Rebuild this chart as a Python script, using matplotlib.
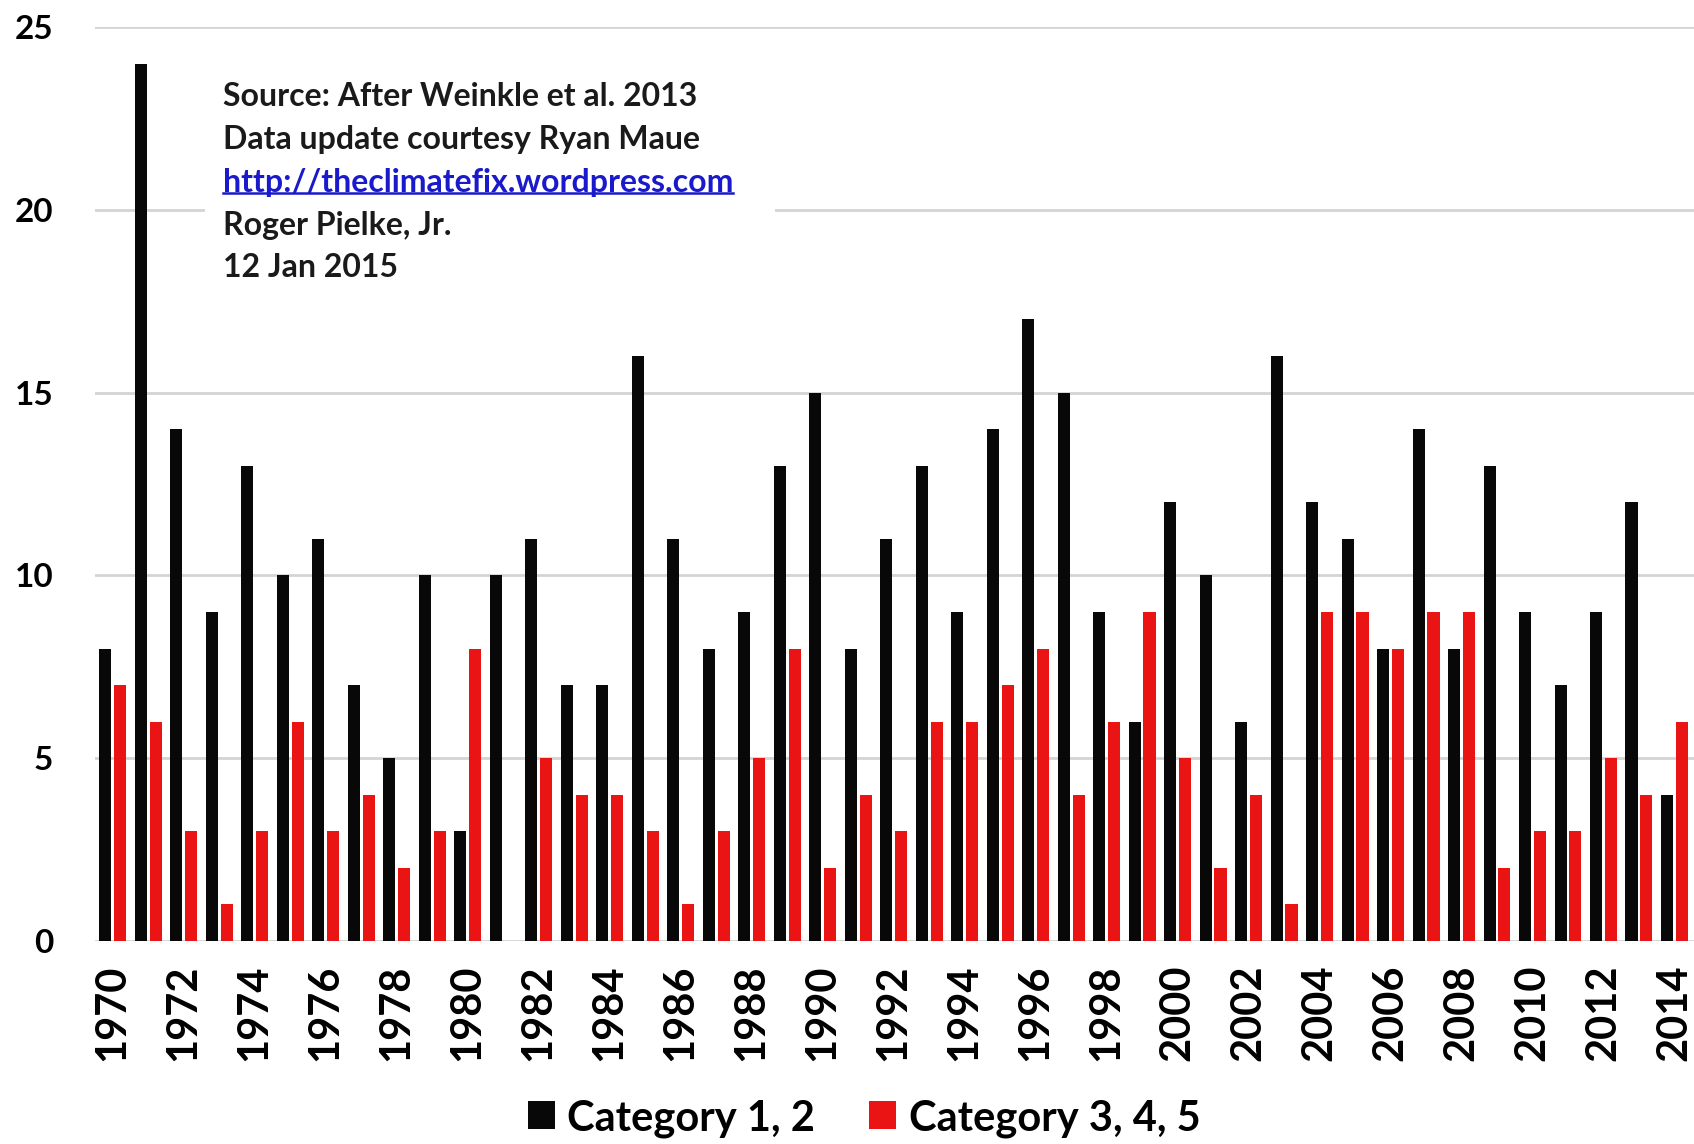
import matplotlib
matplotlib.use("Agg")
import matplotlib.pyplot as plt
import numpy as np
from matplotlib.patches import Rectangle
from matplotlib.lines import Line2D

plt.rcParams['font.family'] = ['Lato', 'DejaVu Sans']
plt.rcParams['font.weight'] = 'bold'

years = list(range(1970, 2015))
cat12 = [8, 24, 14, 9, 13, 10, 11, 7, 5, 10, 3, 10, 11, 7, 7, 16, 11, 8, 9, 13,
         15, 8, 11, 13, 9, 14, 17, 15, 9, 6, 12, 10, 6, 16, 12, 11, 8, 14, 8, 13,
         9, 7, 9, 12, 4]
cat345 = [7, 6, 3, 1, 3, 6, 3, 4, 2, 3, 8, 0, 5, 4, 4, 3, 1, 3, 5, 8,
          2, 4, 3, 6, 6, 7, 8, 4, 6, 9, 5, 2, 4, 1, 9, 9, 8, 9, 9, 2,
          3, 3, 5, 4, 6]
series_labels = ["Category 1, 2", "Category 3, 4, 5"]
yticks = [0, 5, 10, 15, 20, 25]
note_lines = ["Source: After Weinkle et al. 2013",
              "Data update courtesy Ryan Maue",
              "http://theclimatefix.wordpress.com",
              "Roger Pielke, Jr.",
              "12 Jan 2015"]

W, H = 1694, 1144
fig = plt.figure(figsize=(W / 100, H / 100), dpi=100)
ax = fig.add_axes([95 / W, 1 - 941 / H, 1 - 95 / W, (941 - 27) / H])

x = np.arange(len(years))
bw = 0.34
b1 = ax.bar(x - 0.21, cat12, width=bw, color='#080808', zorder=2, label=series_labels[0])
b2 = ax.bar(x + 0.21, cat345, width=bw, color='#ea1414', zorder=2, label=series_labels[1])

ax.set_xlim(-0.5, len(years) - 0.45)
ax.set_ylim(0, 25)
ax.set_yticks(yticks)
ax.set_yticklabels([str(v) for v in yticks], fontsize=24, fontweight='bold')
ax.set_xticks(x[::2])
ax.set_xticklabels([str(y) for y in years[::2]], rotation=90, fontsize=30, fontweight='bold')
ax.tick_params(axis='y', length=0, pad=30)
ax.tick_params(axis='x', length=0, pad=17)
ax.set_axisbelow(True)
ax.yaxis.grid(True, color='#d4d4d4', linewidth=2)
for s in ax.spines.values():
    s.set_visible(False)

# white note box hiding grid lines
box = Rectangle((205 / W, 1 - 285 / H), (775 - 205) / W, (285 - 60) / H,
                transform=fig.transFigure, facecolor='white', edgecolor='none', zorder=1)
ax.add_artist(box)

texts = []
for i, line in enumerate(note_lines):
    col = '#1a1acc' if line.startswith('http') else '#1a1a1a'
    t = fig.text(223 / W, 1 - (97 + i * 42.7) / H, line, fontsize=23, fontweight='bold',
                 color=col, ha='left', va='center', zorder=5)
    texts.append(t)

fig.canvas.draw()
r = fig.canvas.get_renderer()
ext = texts[2].get_window_extent(renderer=r)
uy = ext.y0 + 4
fig.add_artist(Line2D([ext.x0 / W, ext.x1 / W], [uy / H, uy / H], transform=fig.transFigure,
                      color='#1a1acc', linewidth=1.8, zorder=6))

fig.legend(handles=[b1, b2], labels=series_labels, loc='center', bbox_to_anchor=(0.51, 0.0225),
           ncol=2, frameon=False, handlelength=0.65, handleheight=0.65,
           handletextpad=0.3, columnspacing=1.3, prop={'weight': 'bold', 'size': 30})

fig.savefig('out.png', dpi=100, facecolor='white')
